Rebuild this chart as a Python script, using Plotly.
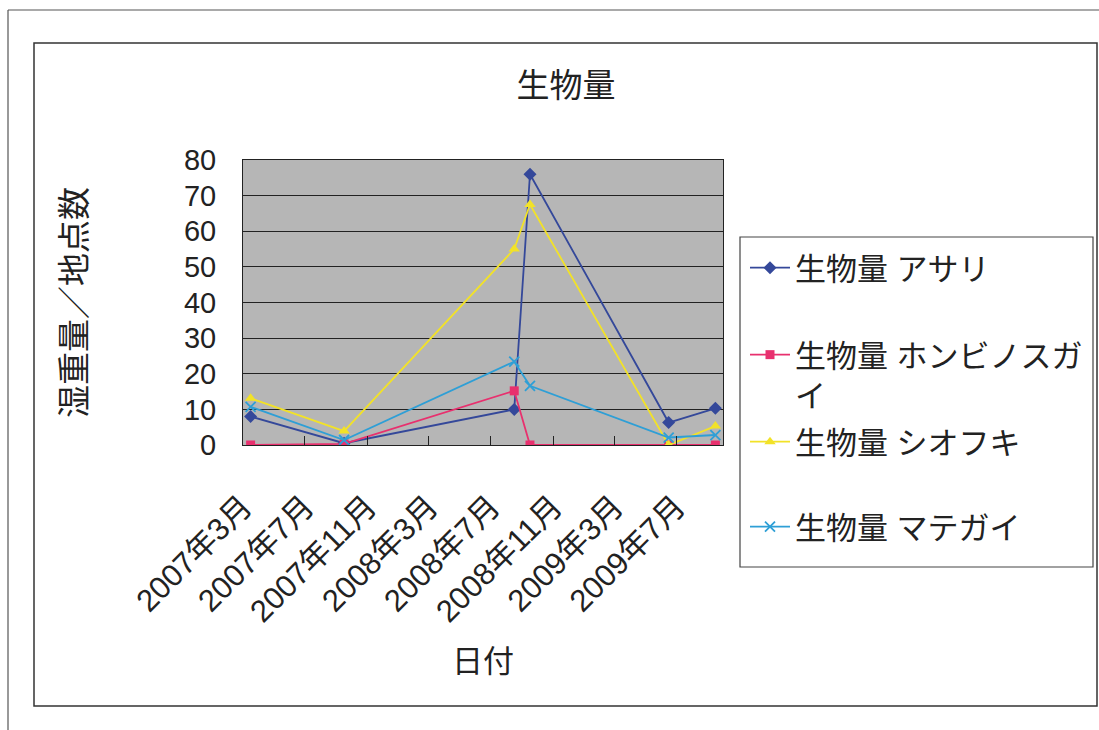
import pandas as pd
import plotly.graph_objects as go

# ---- data ----
months = ["2007-03", "2007-09", "2008-08", "2008-09", "2009-06", "2009-09"]
asari = [8, 0.5, 10, 76, 6.3, 10.3]
honbinosu = [0, 0.3, 15.2, 0, 0, 0]
shiofuki = [13.1, 3.9, 55, 67.5, 0, 5.3]
mategai = [10.7, 1.4, 23.4, 16.6, 2.1, 2.8]

tick_months = ["2007-03", "2007-07", "2007-11", "2008-03",
               "2008-07", "2008-11", "2009-03", "2009-07"]
tick_labels = ["2007年3月", "2007年7月", "2007年11月", "2008年3月",
               "2008年7月", "2008年11月", "2009年3月", "2009年7月"]
axis_start, axis_end = "2007-03-01", "2009-10-01"

series_names = ["生物量 アサリ", "生物量 ホンビノスガ<br>イ", "生物量 シオフキ", "生物量 マテガイ"]
series_values = [asari, honbinosu, shiofuki, mategai]
colors = ["#34489a", "#e8306e", "#f2e228", "#2e9fd6"]
symbols = ["diamond", "square", "triangle-up", "x-thin"]
msizes = [10, 9, 10, 10]

# Excel date axis: points centred in their month bin
x_dates = pd.to_datetime(months) + pd.Timedelta(days=15)
tickvals = pd.to_datetime(tick_months)

FONT = "Liberation Sans, Arial, Noto Sans CJK JP, sans-serif"
W, H = 1099, 730
L, R, T, B = 243, 723, 160, 445  # plot area in px


def px_x(p):
    return (p - L) / (R - L)


def px_y(p):
    return (B - p) / (B - T)


fig = go.Figure()
legend_ids = ["legend", "legend2", "legend3", "legend4"]
legend_y_px = [268, 352, 442, 527]
for i, (name, vals) in enumerate(zip(series_names, series_values)):
    fig.add_trace(go.Scatter(
        x=x_dates, y=vals, mode="lines+markers", name=name,
        line=dict(color=colors[i], width=1.8),
        marker=dict(symbol=symbols[i], size=msizes[i], color=colors[i],
                    line=dict(color=colors[i], width=1.8 if symbols[i].startswith("x") else 0)),
        legend=legend_ids[i],
    ))

layout_legends = {}
for i, lid in enumerate(legend_ids):
    layout_legends[lid] = dict(
        x=px_x(745), y=px_y(legend_y_px[i]), xanchor="left", yanchor="middle" if i != 1 else "top",
        bgcolor="rgba(0,0,0,0)", borderwidth=0, valign="top",
        font=dict(family=FONT, size=31, color="#222222"),
        itemwidth=40,
    )
# two-line entry: anchor its first line
layout_legends["legend2"]["y"] = px_y(352 - 24)

fig.update_layout(
    width=W, height=H,
    margin=dict(l=L, r=W - R, t=T, b=H - B, autoexpand=False),
    paper_bgcolor="white",
    plot_bgcolor="#b6b6b6",
    showlegend=True,
    title=dict(text="生物量", x=px_x(566), xref="paper", xanchor="center",
               y=1 - 85 / H, yref="container", yanchor="middle",
               font=dict(family=FONT, size=33, color="#222222")),
    xaxis=dict(
        type="date", range=[axis_start, axis_end],
        tickvals=tickvals, ticktext=tick_labels, tickangle=-45,
        ticks="inside", ticklen=9, tickcolor="#222222", tickwidth=1,
        ticklabelstandoff=30,
        showgrid=False, showline=True, linecolor="#222222", linewidth=1, mirror=True,
        tickfont=dict(family=FONT, size=31, color="#222222"),
        title=dict(text="日付", standoff=22, font=dict(family=FONT, size=31, color="#222222")),
        automargin=False, fixedrange=True,
    ),
    yaxis=dict(
        range=[0, 80], dtick=10, tick0=0,
        showgrid=True, gridcolor="#222222", gridwidth=1, zeroline=False,
        showline=True, linecolor="#222222", linewidth=1, mirror=True,
        ticks="", ticklabelstandoff=20,
        tickfont=dict(family=FONT, size=29, color="#222222"),
        title=dict(text="湿重量／地点数", standoff=87, font=dict(family=FONT, size=33, color="#222222")),
        automargin=False, fixedrange=True,
    ),
    **layout_legends,
)

# chart frame, legend frame and scanned page edges
shapes = [
    dict(type="rect", xref="paper", yref="paper",
         x0=px_x(34), x1=px_x(1097), y0=px_y(706), y1=px_y(43),
         line=dict(color="#333333", width=1.5), fillcolor="rgba(0,0,0,0)", layer="below"),
    dict(type="rect", xref="paper", yref="paper",
         x0=px_x(740), x1=px_x(1093), y0=px_y(567), y1=px_y(237),
         line=dict(color="#444444", width=1.2), fillcolor="rgba(0,0,0,0)", layer="below"),
    dict(type="line", xref="paper", yref="paper",
         x0=px_x(8), x1=px_x(1099), y0=px_y(10), y1=px_y(10),
         line=dict(color="#555555", width=1.2)),
    dict(type="line", xref="paper", yref="paper",
         x0=px_x(8), x1=px_x(8), y0=px_y(10), y1=px_y(730),
         line=dict(color="#555555", width=1.2)),
]
fig.update_layout(shapes=shapes)

fig.write_html("out.html")
